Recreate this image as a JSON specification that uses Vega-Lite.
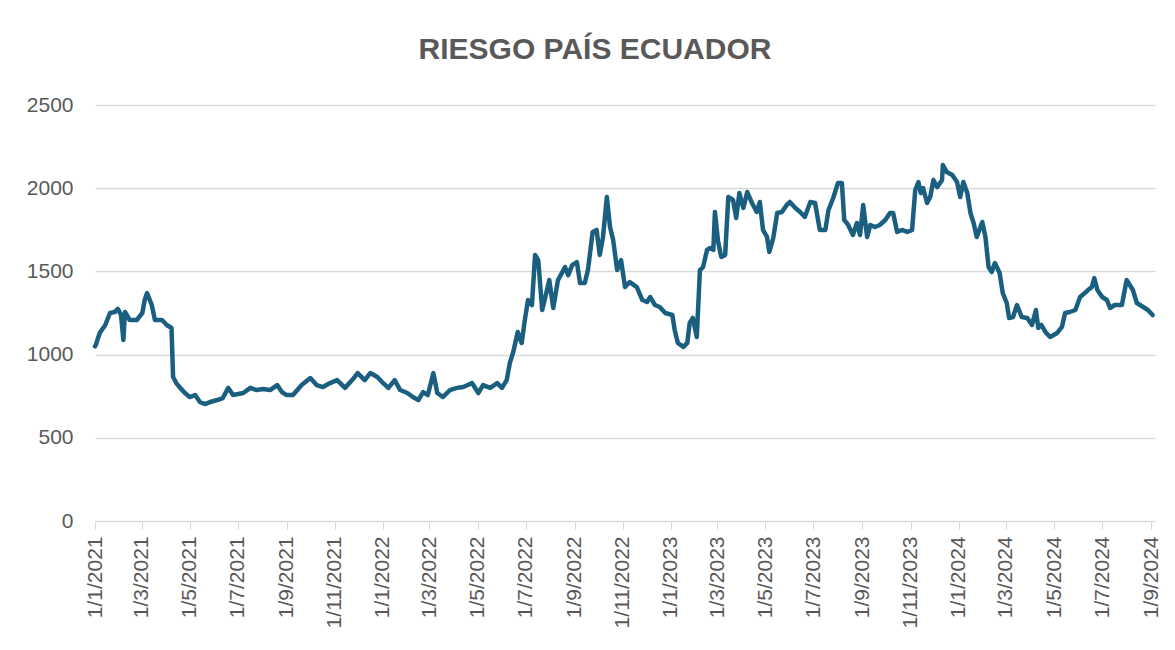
{
  "$schema": "https://vega.github.io/schema/vega-lite/v6.json",
  "width": 1060,
  "height": 416,
  "autosize": {"type": "none"},
  "padding": {"left": 95, "top": 105, "right": 20, "bottom": 129},
  "background": "white",
  "title": {
    "text": "RIESGO PAÍS ECUADOR",
    "font": "Liberation Sans, Arial, sans-serif",
    "fontSize": 30,
    "fontWeight": "bold",
    "color": "#595959",
    "anchor": "middle",
    "dx": -30,
    "offset": 29
  },
  "data": {
    "values": [
      {"date": "2021-01-01", "value": 1050},
      {"date": "2021-01-02", "value": 1058},
      {"date": "2021-01-07", "value": 1130},
      {"date": "2021-01-14", "value": 1178},
      {"date": "2021-01-20", "value": 1250},
      {"date": "2021-01-26", "value": 1256},
      {"date": "2021-01-30", "value": 1274},
      {"date": "2021-02-03", "value": 1238},
      {"date": "2021-02-06", "value": 1088},
      {"date": "2021-02-08", "value": 1256},
      {"date": "2021-02-14", "value": 1208},
      {"date": "2021-02-23", "value": 1208},
      {"date": "2021-03-02", "value": 1250},
      {"date": "2021-03-05", "value": 1328},
      {"date": "2021-03-08", "value": 1370},
      {"date": "2021-03-14", "value": 1298},
      {"date": "2021-03-18", "value": 1208},
      {"date": "2021-03-27", "value": 1208},
      {"date": "2021-04-02", "value": 1178},
      {"date": "2021-04-08", "value": 1160},
      {"date": "2021-04-10", "value": 865},
      {"date": "2021-04-14", "value": 829},
      {"date": "2021-04-19", "value": 800},
      {"date": "2021-04-25", "value": 769},
      {"date": "2021-05-01", "value": 745},
      {"date": "2021-05-08", "value": 757},
      {"date": "2021-05-14", "value": 715},
      {"date": "2021-05-20", "value": 703},
      {"date": "2021-05-27", "value": 715},
      {"date": "2021-06-05", "value": 727},
      {"date": "2021-06-12", "value": 739},
      {"date": "2021-06-19", "value": 800},
      {"date": "2021-06-25", "value": 757},
      {"date": "2021-07-08", "value": 769},
      {"date": "2021-07-17", "value": 800},
      {"date": "2021-07-25", "value": 787},
      {"date": "2021-08-02", "value": 793},
      {"date": "2021-08-11", "value": 787},
      {"date": "2021-08-20", "value": 817},
      {"date": "2021-08-26", "value": 775},
      {"date": "2021-09-01", "value": 757},
      {"date": "2021-09-09", "value": 757},
      {"date": "2021-09-20", "value": 817},
      {"date": "2021-10-01", "value": 859},
      {"date": "2021-10-09", "value": 817},
      {"date": "2021-10-17", "value": 805},
      {"date": "2021-10-26", "value": 829},
      {"date": "2021-11-04", "value": 847},
      {"date": "2021-11-14", "value": 800},
      {"date": "2021-11-23", "value": 847},
      {"date": "2021-11-30", "value": 889},
      {"date": "2021-12-09", "value": 847},
      {"date": "2021-12-16", "value": 889},
      {"date": "2021-12-25", "value": 865},
      {"date": "2021-12-31", "value": 835},
      {"date": "2022-01-08", "value": 800},
      {"date": "2022-01-16", "value": 847},
      {"date": "2022-01-23", "value": 787},
      {"date": "2022-02-01", "value": 769},
      {"date": "2022-02-08", "value": 745},
      {"date": "2022-02-15", "value": 727},
      {"date": "2022-02-21", "value": 775},
      {"date": "2022-02-27", "value": 757},
      {"date": "2022-03-06", "value": 889},
      {"date": "2022-03-11", "value": 769},
      {"date": "2022-03-18", "value": 745},
      {"date": "2022-03-27", "value": 787},
      {"date": "2022-04-05", "value": 800},
      {"date": "2022-04-13", "value": 805},
      {"date": "2022-04-24", "value": 829},
      {"date": "2022-05-02", "value": 769},
      {"date": "2022-05-08", "value": 817},
      {"date": "2022-05-17", "value": 800},
      {"date": "2022-05-26", "value": 829},
      {"date": "2022-06-01", "value": 800},
      {"date": "2022-06-07", "value": 847},
      {"date": "2022-06-11", "value": 950},
      {"date": "2022-06-15", "value": 1010},
      {"date": "2022-06-21", "value": 1136},
      {"date": "2022-06-26", "value": 1070},
      {"date": "2022-06-30", "value": 1208},
      {"date": "2022-07-04", "value": 1328},
      {"date": "2022-07-09", "value": 1298},
      {"date": "2022-07-13", "value": 1599},
      {"date": "2022-07-17", "value": 1568},
      {"date": "2022-07-22", "value": 1268},
      {"date": "2022-07-26", "value": 1346},
      {"date": "2022-07-31", "value": 1448},
      {"date": "2022-08-05", "value": 1280},
      {"date": "2022-08-11", "value": 1448},
      {"date": "2022-08-20", "value": 1526},
      {"date": "2022-08-24", "value": 1478},
      {"date": "2022-08-29", "value": 1538},
      {"date": "2022-09-04", "value": 1556},
      {"date": "2022-09-08", "value": 1430},
      {"date": "2022-09-14", "value": 1430},
      {"date": "2022-09-18", "value": 1508},
      {"date": "2022-09-24", "value": 1737},
      {"date": "2022-09-29", "value": 1749},
      {"date": "2022-10-03", "value": 1599},
      {"date": "2022-10-07", "value": 1701},
      {"date": "2022-10-12", "value": 1947},
      {"date": "2022-10-16", "value": 1767},
      {"date": "2022-10-20", "value": 1689},
      {"date": "2022-10-25", "value": 1508},
      {"date": "2022-10-30", "value": 1568},
      {"date": "2022-11-04", "value": 1406},
      {"date": "2022-11-10", "value": 1436},
      {"date": "2022-11-19", "value": 1406},
      {"date": "2022-11-26", "value": 1328},
      {"date": "2022-12-02", "value": 1316},
      {"date": "2022-12-06", "value": 1346},
      {"date": "2022-12-12", "value": 1298},
      {"date": "2022-12-18", "value": 1286},
      {"date": "2022-12-25", "value": 1250},
      {"date": "2023-01-03", "value": 1238},
      {"date": "2023-01-06", "value": 1148},
      {"date": "2023-01-10", "value": 1070},
      {"date": "2023-01-17", "value": 1046},
      {"date": "2023-01-22", "value": 1070},
      {"date": "2023-01-25", "value": 1190},
      {"date": "2023-01-29", "value": 1220},
      {"date": "2023-02-03", "value": 1106},
      {"date": "2023-02-07", "value": 1508},
      {"date": "2023-02-11", "value": 1526},
      {"date": "2023-02-16", "value": 1629},
      {"date": "2023-02-20", "value": 1641},
      {"date": "2023-02-24", "value": 1629},
      {"date": "2023-02-26", "value": 1857},
      {"date": "2023-03-02", "value": 1680},
      {"date": "2023-03-06", "value": 1587},
      {"date": "2023-03-11", "value": 1599},
      {"date": "2023-03-15", "value": 1947},
      {"date": "2023-03-21", "value": 1929},
      {"date": "2023-03-25", "value": 1821},
      {"date": "2023-03-29", "value": 1971},
      {"date": "2023-04-03", "value": 1881},
      {"date": "2023-04-08", "value": 1977},
      {"date": "2023-04-14", "value": 1911},
      {"date": "2023-04-20", "value": 1857},
      {"date": "2023-04-24", "value": 1917},
      {"date": "2023-04-28", "value": 1749},
      {"date": "2023-05-03", "value": 1707},
      {"date": "2023-05-06", "value": 1617},
      {"date": "2023-05-11", "value": 1701},
      {"date": "2023-05-16", "value": 1851},
      {"date": "2023-05-22", "value": 1857},
      {"date": "2023-05-28", "value": 1899},
      {"date": "2023-06-01", "value": 1917},
      {"date": "2023-06-08", "value": 1881},
      {"date": "2023-06-14", "value": 1857},
      {"date": "2023-06-20", "value": 1827},
      {"date": "2023-06-27", "value": 1917},
      {"date": "2023-07-03", "value": 1911},
      {"date": "2023-07-09", "value": 1749},
      {"date": "2023-07-16", "value": 1749},
      {"date": "2023-07-20", "value": 1869},
      {"date": "2023-07-26", "value": 1941},
      {"date": "2023-08-01", "value": 2031},
      {"date": "2023-08-06", "value": 2031},
      {"date": "2023-08-09", "value": 1809},
      {"date": "2023-08-14", "value": 1779},
      {"date": "2023-08-20", "value": 1719},
      {"date": "2023-08-25", "value": 1791},
      {"date": "2023-08-29", "value": 1719},
      {"date": "2023-09-02", "value": 1899},
      {"date": "2023-09-07", "value": 1707},
      {"date": "2023-09-11", "value": 1779},
      {"date": "2023-09-17", "value": 1767},
      {"date": "2023-09-23", "value": 1779},
      {"date": "2023-09-30", "value": 1809},
      {"date": "2023-10-06", "value": 1851},
      {"date": "2023-10-10", "value": 1851},
      {"date": "2023-10-15", "value": 1737},
      {"date": "2023-10-21", "value": 1749},
      {"date": "2023-10-28", "value": 1737},
      {"date": "2023-11-03", "value": 1749},
      {"date": "2023-11-07", "value": 1989},
      {"date": "2023-11-11", "value": 2037},
      {"date": "2023-11-14", "value": 1971},
      {"date": "2023-11-17", "value": 2001},
      {"date": "2023-11-22", "value": 1911},
      {"date": "2023-11-26", "value": 1947},
      {"date": "2023-11-30", "value": 2049},
      {"date": "2023-12-05", "value": 2007},
      {"date": "2023-12-11", "value": 2049},
      {"date": "2023-12-12", "value": 2139},
      {"date": "2023-12-17", "value": 2097},
      {"date": "2023-12-24", "value": 2079},
      {"date": "2023-12-30", "value": 2037},
      {"date": "2024-01-03", "value": 1947},
      {"date": "2024-01-07", "value": 2037},
      {"date": "2024-01-12", "value": 1971},
      {"date": "2024-01-16", "value": 1851},
      {"date": "2024-01-20", "value": 1791},
      {"date": "2024-01-24", "value": 1707},
      {"date": "2024-01-31", "value": 1797},
      {"date": "2024-02-04", "value": 1707},
      {"date": "2024-02-08", "value": 1526},
      {"date": "2024-02-12", "value": 1496},
      {"date": "2024-02-16", "value": 1550},
      {"date": "2024-02-22", "value": 1490},
      {"date": "2024-02-26", "value": 1370},
      {"date": "2024-03-02", "value": 1310},
      {"date": "2024-03-05", "value": 1220},
      {"date": "2024-03-10", "value": 1226},
      {"date": "2024-03-15", "value": 1298},
      {"date": "2024-03-21", "value": 1226},
      {"date": "2024-03-28", "value": 1220},
      {"date": "2024-04-03", "value": 1178},
      {"date": "2024-04-08", "value": 1268},
      {"date": "2024-04-11", "value": 1160},
      {"date": "2024-04-15", "value": 1178},
      {"date": "2024-04-20", "value": 1136},
      {"date": "2024-04-26", "value": 1106},
      {"date": "2024-05-05", "value": 1130},
      {"date": "2024-05-11", "value": 1166},
      {"date": "2024-05-15", "value": 1250},
      {"date": "2024-05-21", "value": 1256},
      {"date": "2024-05-28", "value": 1268},
      {"date": "2024-06-03", "value": 1346},
      {"date": "2024-06-09", "value": 1370},
      {"date": "2024-06-13", "value": 1388},
      {"date": "2024-06-18", "value": 1406},
      {"date": "2024-06-21", "value": 1460},
      {"date": "2024-06-25", "value": 1388},
      {"date": "2024-07-01", "value": 1346},
      {"date": "2024-07-07", "value": 1328},
      {"date": "2024-07-11", "value": 1280},
      {"date": "2024-07-17", "value": 1298},
      {"date": "2024-07-26", "value": 1298},
      {"date": "2024-08-01", "value": 1448},
      {"date": "2024-08-05", "value": 1418},
      {"date": "2024-08-09", "value": 1388},
      {"date": "2024-08-14", "value": 1310},
      {"date": "2024-08-22", "value": 1286},
      {"date": "2024-08-28", "value": 1268},
      {"date": "2024-09-03", "value": 1238}
    ]
  },
  "mark": {"type": "line", "color": "#1b5f80", "strokeWidth": 4.5, "strokeJoin": "round", "strokeCap": "round"},
  "encoding": {
    "x": {
      "field": "date",
      "type": "temporal",
      "title": null,
      "scale": {"type": "utc", "domain": ["2021-01-01", "2024-09-06"]},
      "axis": {
        "format": "%-d/%-m/%Y",
        "tickCount": {"interval": "month", "step": 2},
        "labelAngle": -90,
        "labelOverlap": false,
        "labelFlush": false,
        "labelFont": "Liberation Sans, Arial, sans-serif",
        "labelFontSize": 21,
        "labelColor": "#595959",
        "labelPadding": 7,
        "tickSize": 8,
        "tickColor": "#d9d9d9",
        "domainColor": "#d9d9d9",
        "grid": false
      }
    },
    "y": {
      "field": "value",
      "type": "quantitative",
      "title": null,
      "scale": {"domain": [0, 2500], "nice": false},
      "axis": {
        "values": [0, 500, 1000, 1500, 2000, 2500],
        "format": "d",
        "domain": false,
        "ticks": false,
        "labelFont": "Liberation Sans, Arial, sans-serif",
        "labelFontSize": 21,
        "labelColor": "#595959",
        "labelPadding": 22,
        "gridColor": "#d9d9d9",
        "gridWidth": 1.3
      }
    }
  },
  "config": {"view": {"stroke": null}}
}
